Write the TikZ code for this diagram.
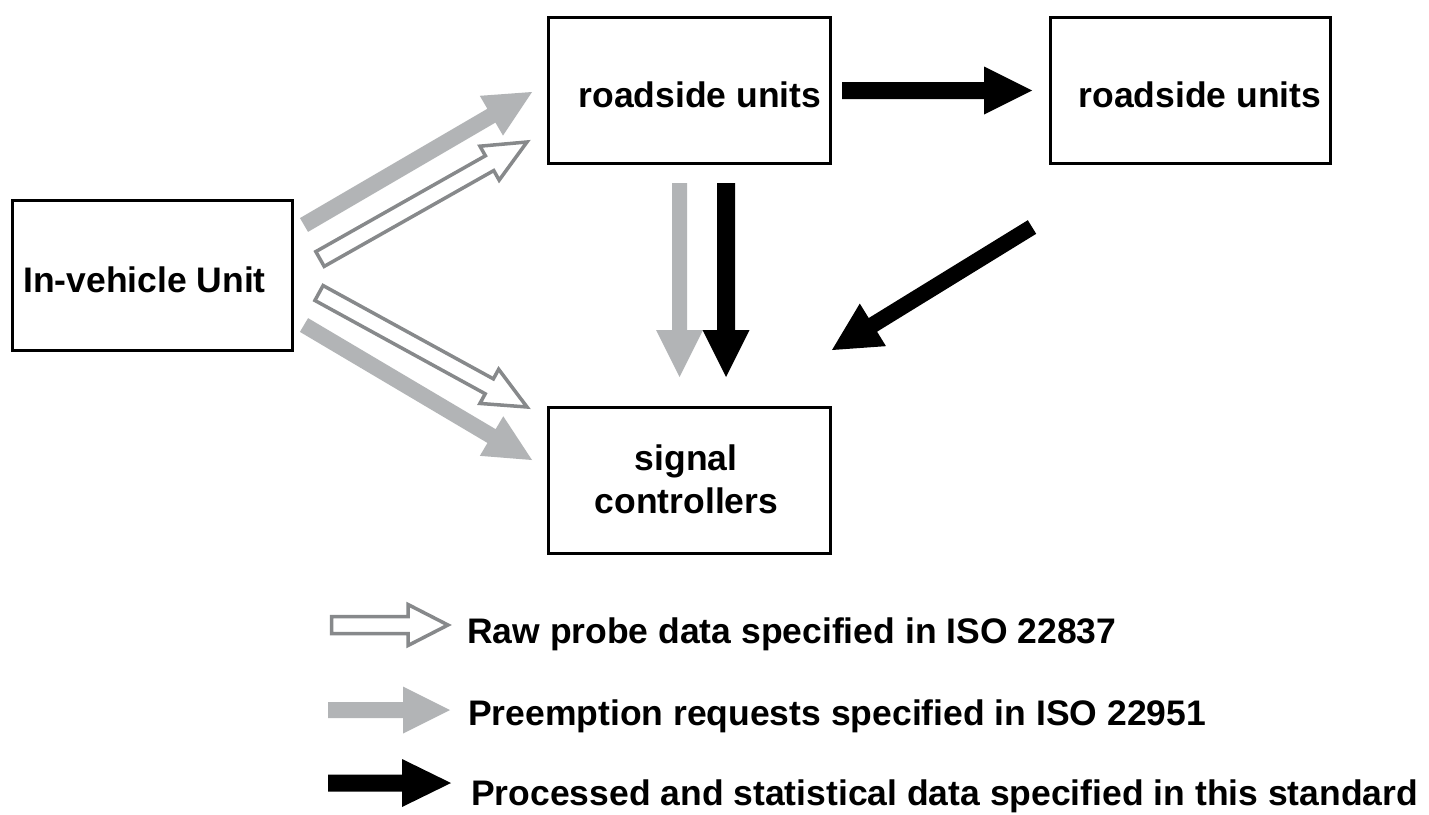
\documentclass[tikz,border=0pt]{standalone}
\usepackage{fontspec}
\setmainfont{Liberation Sans}
\usetikzlibrary{calc}
\definecolor{arrgray}{RGB}{178,180,182}
\definecolor{hollowgray}{RGB}{135,137,139}
% #1 style, #2 name, #3 start, #4 tip, #5 shaft half width, #6 head half width, #7 head length
\newcommand{\fatarrow}[7]{%
  \coordinate (#2-c) at ($(#4)!#7!(#3)$);
  \path[#1] ($(#3)!#5!90:(#4)$) -- ($(#2-c)!#5!90:(#4)$) -- ($(#2-c)!#6!90:(#4)$) -- (#4)
    -- ($(#2-c)!#6!-90:(#4)$) -- ($(#2-c)!#5!-90:(#4)$) -- ($(#3)!#5!-90:(#4)$) -- cycle;}
\begin{document}
\begin{tikzpicture}[x=1pt,y=-1pt,
  box/.style={draw=black, line width=3pt, fill=white, inner sep=0pt},
  lbl/.style={inner sep=0pt, font=\fontsize{35.5pt}{42.6pt}\selectfont\bfseries},
  prearrow/.style={fill=arrgray},
  rawarrow/.style={draw=hollowgray, line width=3.5pt, fill=white, line join=miter},
  procarrow/.style={fill=black}]
\useasboundingbox (0,0) rectangle (1429,814);
\fill[white] (0,0) rectangle (1429,814);

% boxes
\node[box, minimum width=280pt, minimum height=150pt] (ivu) at (152,275) {};
\node[box, minimum width=282pt, minimum height=146pt] (rsu1) at (689,90) {};
\node[box, minimum width=280pt, minimum height=146pt] (rsu2) at (1190,90) {};
\node[box, minimum width=282pt, minimum height=146pt] (sc) at (689,480) {};

% box texts
\node[lbl, anchor=base] (ivut) at (144.5,292) {In-vehicle Unit};
\node[lbl, anchor=base] (rsu1t) at (700,107) {roadside units};
\node[lbl, anchor=base] (rsu2t) at (1200,107) {roadside units};
\node[lbl, anchor=base] (sct1) at (686,470) {signal};
\node[lbl, anchor=base] (sct2) at (686.5,513) {controllers};

% arrow end points
\coordinate (p1a) at (304,225);   \coordinate (p1b) at (532,92);
\coordinate (r1a) at (320,259);   \coordinate (r1b) at (527,142);
\coordinate (r2a) at (319,293);   \coordinate (r2b) at (527,407);
\coordinate (p2a) at (304,325);   \coordinate (p2b) at (532,460);
\coordinate (p3a) at (679.5,183); \coordinate (p3b) at (679.5,377);
\coordinate (k1a) at (726,183);   \coordinate (k1b) at (726,377);
\coordinate (k2a) at (842,90.5);  \coordinate (k2b) at (1032,90.5);
\coordinate (k3a) at (1032,227);  \coordinate (k3b) at (832,350);

\fatarrow{prearrow}{p1}{p1a}{p1b}{8pt}{23pt}{47pt}
\fatarrow{rawarrow}{r1}{r1a}{r1b}{8.5pt}{19.5pt}{43pt}
\fatarrow{rawarrow}{r2}{r2a}{r2b}{8.5pt}{19.5pt}{43pt}
\fatarrow{prearrow}{p2}{p2a}{p2b}{8pt}{23pt}{47pt}
\fatarrow{prearrow}{p3}{p3a}{p3b}{7.5pt}{23.5pt}{47pt}
\fatarrow{procarrow}{k1}{k1a}{k1b}{9pt}{23.5pt}{47pt}
\fatarrow{procarrow}{k2}{k2a}{k2b}{8.5pt}{24pt}{48pt}
\fatarrow{procarrow}{k3}{k3a}{k3b}{8pt}{25pt}{48pt}

% legend
\coordinate (l1a) at (331.5,625); \coordinate (l1b) at (448,625);
\coordinate (l2a) at (328,710);   \coordinate (l2b) at (450,710);
\coordinate (l3a) at (328,783);   \coordinate (l3b) at (451,783);
\fatarrow{rawarrow}{l1}{l1a}{l1b}{8.5pt}{20.5pt}{40pt}
\fatarrow{prearrow}{l2}{l2a}{l2b}{8pt}{23.5pt}{47pt}
\fatarrow{procarrow}{l3}{l3a}{l3b}{8.5pt}{24pt}{49pt}
\node[lbl, anchor=base west] (lt1) at (467,643) {Raw probe data specified in ISO 22837};
\node[lbl, anchor=base west] (lt2) at (468,725) {Preemption requests specified in ISO 22951};
\node[lbl, anchor=base west] (lt3) at (471,805) {Processed and statistical data specified in this standard};
\end{tikzpicture}
\end{document}
